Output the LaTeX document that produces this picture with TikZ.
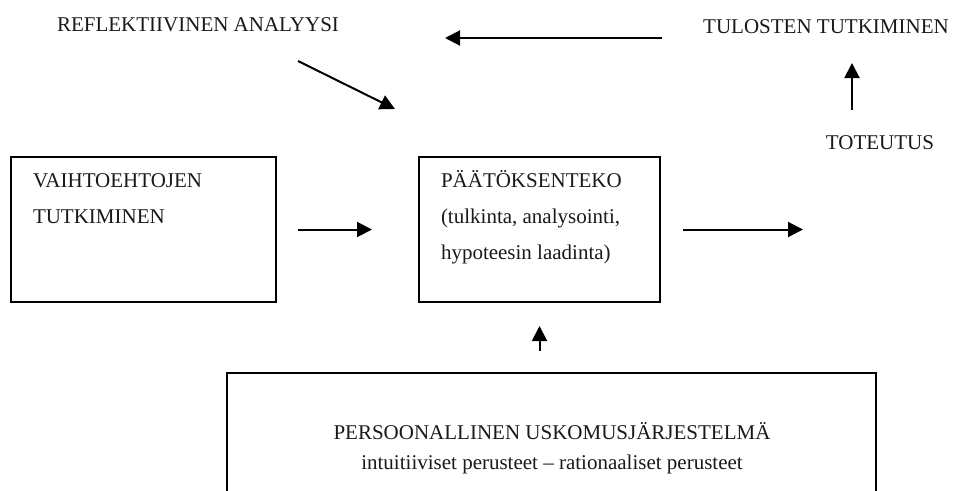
\documentclass[tikz,border=0pt]{standalone}
\usepackage{fontspec}
\setmainfont{Liberation Serif}
\usetikzlibrary{arrows.meta}
\begin{document}
\begin{tikzpicture}[x=1pt,y=-1pt,
  box/.style={draw=black,line width=2pt,inner sep=0pt,outer sep=0pt,anchor=north west},
  arr/.style={draw=black,line width=2pt,-{Triangle[length=15pt,width=15pt]}},
  lbl/.style={inner sep=0pt,outer sep=0pt,font=\fontsize{21}{25}\selectfont,text=black!90}]
\useasboundingbox (0,0) rectangle (958,490);
\clip (0,0) rectangle (958,490);

% boxes
\node[box,minimum width=265pt,minimum height=145pt] (vaiht) at (11,157) {};
\node[box,minimum width=241pt,minimum height=145pt] (paat) at (419,157) {};
\node[box,minimum width=649pt,minimum height=170pt] (pers) at (227,373) {};

% texts
\node[lbl,anchor=base] (refl) at (198,31) {REFLEKTIIVINEN ANALYYSI};
\node[lbl,anchor=base] (tulos) at (826,33) {TULOSTEN TUTKIMINEN};
\node[lbl,anchor=base] (toteu) at (880,149) {TOTEUTUS};
\node[lbl,anchor=base west] (v1) at (33,187) {VAIHTOEHTOJEN};
\node[lbl,anchor=base west] (v2) at (33,223) {TUTKIMINEN};
\node[lbl,anchor=base west] (p1) at (441,187) {PÄÄTÖKSENTEKO};
\node[lbl,anchor=base west] (p2) at (441,223) {(tulkinta, analysointi,};
\node[lbl,anchor=base west] (p3) at (441,259) {hypoteesin laadinta)};
\node[lbl,anchor=base] (b1) at (552,439) {PERSOONALLINEN USKOMUSJÄRJESTELMÄ};
\node[lbl,anchor=base] (b2) at (552,469) {intuitiiviset perusteet – rationaaliset perusteet};

% connector end points
\coordinate (topS) at (662,38);
\coordinate (topE) at (445,38);
\coordinate (diagS) at (298,61);
\coordinate (diagE) at (395,109);
\coordinate (upS) at (852,110);
\coordinate (upE) at (852,63);

% connectors
\draw[arr] (topS) -- (topE);
\draw[arr] (diagS) -- (diagE);
\draw[arr] (upS) -- (upE);
\draw[arr] ([xshift=22pt]vaiht.east) -- ([xshift=-47pt]paat.west);
\draw[arr] ([xshift=23pt]paat.east) -- ([xshift=143pt]paat.east);
\draw[arr] ([yshift=-49pt]paat.south) -- ([yshift=-24pt]paat.south);
\end{tikzpicture}
\end{document}
